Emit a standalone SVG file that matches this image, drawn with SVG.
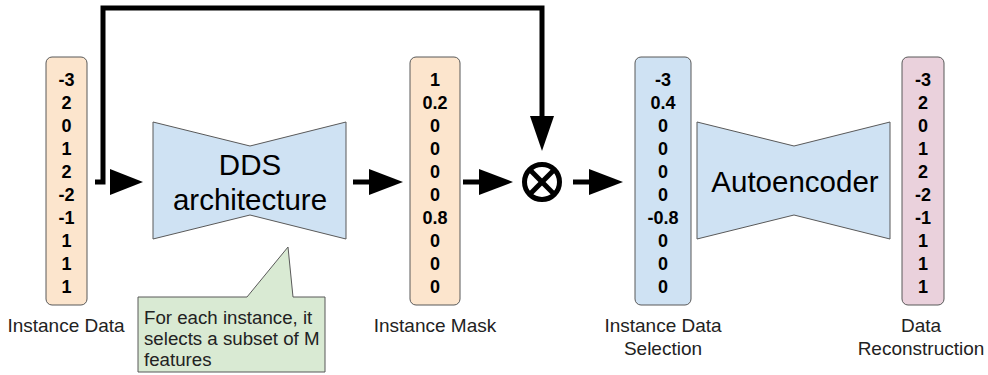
<svg xmlns="http://www.w3.org/2000/svg" width="988" height="375" viewBox="0 0 988 375">
<style>
.vec{stroke:#595959;stroke-width:1;}
.num{font-family:"Liberation Sans",Arial,sans-serif;font-weight:bold;font-size:18px;fill:#000;text-anchor:middle;}
.lbl{font-family:"Liberation Sans",Arial,sans-serif;font-size:19px;fill:#222;text-anchor:middle;}
.big{font-family:"Liberation Sans",Arial,sans-serif;font-size:29.5px;fill:#000;text-anchor:middle;}
.note{font-family:"Liberation Sans",Arial,sans-serif;font-size:18.7px;fill:#222;}
.shape{fill:#cfe2f3;stroke:#595959;stroke-width:1;}
.conn{stroke:#000;stroke-width:5;fill:none;}
.head{fill:#000;}
</style>
<rect width="988" height="375" fill="#fff"/>
<g id="connectors">
  <polyline class="conn" points="95,182 103,182 103,8 542,8 542,118"/>
  <polygon class="head" points="110,169 143,182 110,195"/>
  <line class="conn" x1="353" y1="182" x2="372" y2="182"/>
  <polygon class="head" points="369,169 403,182 369,195"/>
  <line class="conn" x1="463" y1="182" x2="482" y2="182"/>
  <polygon class="head" points="479,169 513,182 479,195"/>
  <line class="conn" x1="573" y1="182" x2="592" y2="182"/>
  <polygon class="head" points="589,169 623,182 589,195"/>
  <polygon class="head" points="530,116 554,116 542,151"/>
</g>
<g id="instance-data">
  <rect class="vec" x="46" y="57" width="41" height="248" rx="6" fill="#fce5cd"/>
  <text class="num" x="66.5" y="85.5">-3</text>
  <text class="num" x="66.5" y="108.5">2</text>
  <text class="num" x="66.5" y="131.5">0</text>
  <text class="num" x="66.5" y="154.5">1</text>
  <text class="num" x="66.5" y="177.5">2</text>
  <text class="num" x="66.5" y="200.5">-2</text>
  <text class="num" x="66.5" y="223.5">-1</text>
  <text class="num" x="66.5" y="246.5">1</text>
  <text class="num" x="66.5" y="269.5">1</text>
  <text class="num" x="66.5" y="292.5">1</text>
  <text class="lbl" x="66" y="331.5">Instance Data</text>
</g>
<g id="dds">
  <polygon class="shape" points="153,122 250,146 346,122 346,239 250,215 153,239"/>
  <text class="big" x="250" y="175">DDS</text>
  <text class="big" x="250" y="210">architecture</text>
</g>
<g id="callout">
  <polygon points="138,297 247,297 288,247 293,297 325,297 325,372 138,372" fill="#d9ead3" stroke="#595959" stroke-width="1"/>
  <text class="note" x="144" y="323.5">For each instance, it</text>
  <text class="note" x="144" y="345">selects a subset of M</text>
  <text class="note" x="144" y="366">features</text>
</g>
<g id="instance-mask">
  <rect class="vec" x="410" y="57" width="50" height="248" rx="6" fill="#fce5cd"/>
  <text class="num" x="435" y="85.5">1</text>
  <text class="num" x="435" y="108.5">0.2</text>
  <text class="num" x="435" y="131.5">0</text>
  <text class="num" x="435" y="154.5">0</text>
  <text class="num" x="435" y="177.5">0</text>
  <text class="num" x="435" y="200.5">0</text>
  <text class="num" x="435" y="223.5">0.8</text>
  <text class="num" x="435" y="246.5">0</text>
  <text class="num" x="435" y="269.5">0</text>
  <text class="num" x="435" y="292.5">0</text>
  <text class="lbl" x="435" y="331.5">Instance Mask</text>
</g>
<g id="multiply">
  <circle cx="542" cy="182" r="17.5" fill="#fff" stroke="#000" stroke-width="5"/>
  <line x1="529.6" y1="169.6" x2="554.4" y2="194.4" stroke="#000" stroke-width="5"/>
  <line x1="554.4" y1="169.6" x2="529.6" y2="194.4" stroke="#000" stroke-width="5"/>
</g>
<g id="instance-data-selection">
  <rect class="vec" x="635" y="57" width="56" height="248" rx="6" fill="#cfe2f3"/>
  <text class="num" x="663" y="85.5">-3</text>
  <text class="num" x="663" y="108.5">0.4</text>
  <text class="num" x="663" y="131.5">0</text>
  <text class="num" x="663" y="154.5">0</text>
  <text class="num" x="663" y="177.5">0</text>
  <text class="num" x="663" y="200.5">0</text>
  <text class="num" x="663" y="223.5">-0.8</text>
  <text class="num" x="663" y="246.5">0</text>
  <text class="num" x="663" y="269.5">0</text>
  <text class="num" x="663" y="292.5">0</text>
  <text class="lbl" x="663" y="331.5">Instance Data</text>
  <text class="lbl" x="663" y="354.5">Selection</text>
</g>
<g id="autoencoder">
  <polygon class="shape" points="697,122 794,146 890,122 890,239 794,215 697,239"/>
  <text class="big" x="795" y="192">Autoencoder</text>
</g>
<g id="data-reconstruction">
  <rect class="vec" x="902" y="57" width="42" height="248" rx="6" fill="#ead1dc"/>
  <text class="num" x="923" y="85.5">-3</text>
  <text class="num" x="923" y="108.5">2</text>
  <text class="num" x="923" y="131.5">0</text>
  <text class="num" x="923" y="154.5">1</text>
  <text class="num" x="923" y="177.5">2</text>
  <text class="num" x="923" y="200.5">-2</text>
  <text class="num" x="923" y="223.5">-1</text>
  <text class="num" x="923" y="246.5">1</text>
  <text class="num" x="923" y="269.5">1</text>
  <text class="num" x="923" y="292.5">1</text>
  <text class="lbl" x="921" y="331.5">Data</text>
  <text class="lbl" x="921" y="354.5">Reconstruction</text>
</g>
</svg>
